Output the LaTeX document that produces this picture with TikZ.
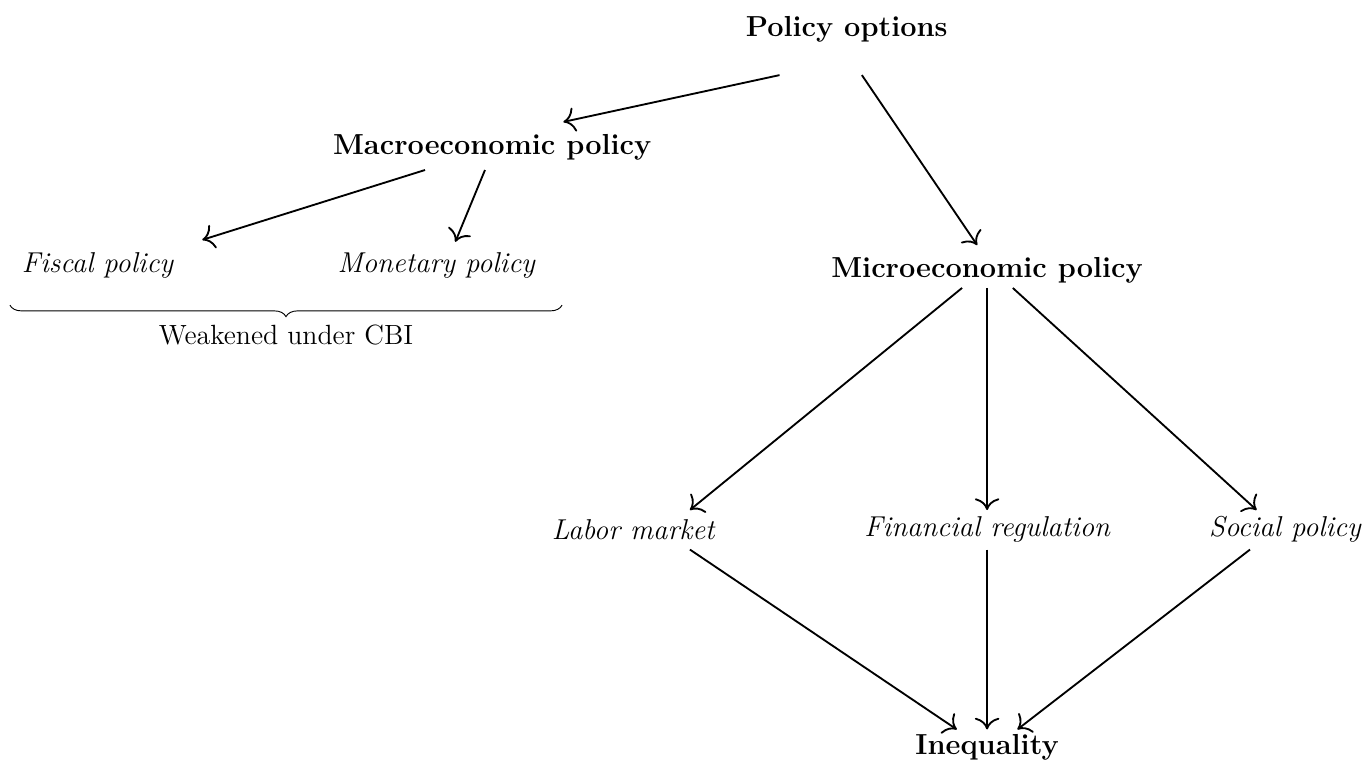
\documentclass[tikz,border=0pt]{standalone}
\usepackage{tikz}
\usetikzlibrary{calc,arrows.meta,decorations.pathreplacing}
\tikzset{
	mainlbl/.style={font=\fontsize{12.5}{15}\selectfont\bfseries},
	sublbl/.style={font=\fontsize{12.4}{15}\selectfont\itshape},
	link/.style={-{To[scale=1.5]}, thick}
}

\begin{document}
\begin{tikzpicture}
			%%%%% START %%%%%
			\useasboundingbox (0, 0) rectangle (20.70, -11.58);
			
			\node[mainlbl] (po) at (12.85, -0.45) {Policy options};
			\node[mainlbl] (macro) at (7.47, -2.24) {Macroeconomic policy};
			\node[mainlbl] (micro) at (14.98, -4.10) {Microeconomic policy};
			\node[mainlbl] (ineq) at (14.98, -11.34) {Inequality};
			
			\node[sublbl] (fiscal) at (1.48, -4.03) {Fiscal policy};
			\node[sublbl] (monetary) at (6.62, -4.03) {Monetary policy};
			
			\node[sublbl] (labor) at (9.61, -8.04) {Labor market};
			\node[sublbl] (fin) at (14.98, -8.04) {Financial regulation};
			\node[sublbl] (social) at (19.50, -8.04) {Social policy};
			
			\draw[link] ($(po)+(-1.02, -0.69)$) -- ($(macro)+(1.08, 0.39)$);
			\draw[link] ($(po)+(0.23, -0.69)$) -- ($(micro)+(-0.15, 0.38)$);
			
			\draw[link] ($(macro)+(-1.02, -0.34)$) -- ($(fiscal)+(1.59, 0.39)$);
			\draw[link] ($(macro)+(-0.11, -0.34)$) -- ($(monetary)+(0.29, 0.36)$);
			
			\draw[link] ($(micro)+(-0.38, -0.27)$) -- ($(labor)+(0.86, 0.30)$);
			\draw[link] ($(micro)+(0, -0.27)$) -- ($(fin)+(0, 0.30)$);
			\draw[link] ($(micro)+(0.39, -0.27)$) -- ($(social)+(-0.43, 0.30)$);
			
			\draw[link] ($(labor)+(0.86, -0.30)$) -- ($(ineq)+(-0.46, 0.27)$);
			\draw[link] ($(fin)+(0, -0.30)$) -- ($(ineq)+(0, 0.27)$);
			\draw[link] ($(social)+(-0.53, -0.30)$) -- ($(ineq)+(0.46, 0.27)$);
			
			\coordinate (bl) at (0.15, -4.63);
			\coordinate (br) at (8.53, -4.63);
			\draw[decorate, decoration={brace, mirror, amplitude=5pt}] (bl) -- (br)
				node[midway, below=5pt, font=\large] (cbi) {Weakened under CBI};
			
			%%%%% END %%%%%
		\end{tikzpicture}
\end{document}
